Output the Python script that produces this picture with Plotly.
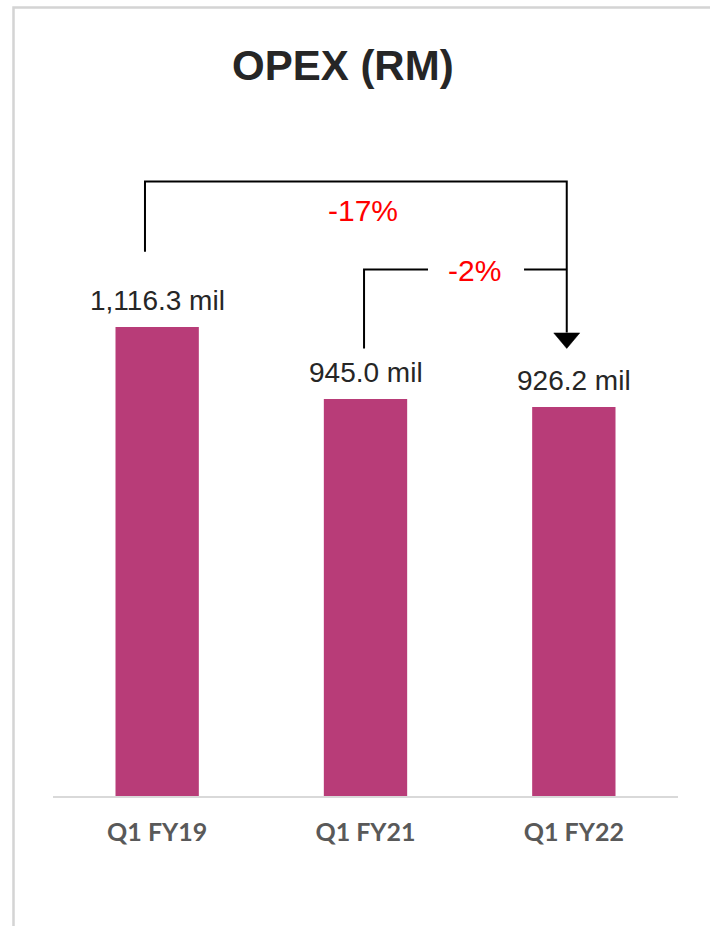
import plotly.graph_objects as go

categories = ["Q1 FY19", "Q1 FY21", "Q1 FY22"]
opex_values = [1116.3, 945.0, 926.2]
value_labels = ["1,116.3 mil", "945.0 mil", "926.2 mil"]
change_labels = ["-17%", "-2%"]

BAR_COLOR = "#B83C78"
TEXT_FONT = "Liberation Sans, Arial, sans-serif"

fig = go.Figure()
fig.add_trace(go.Bar(
    x=categories, y=opex_values, width=0.4,
    marker=dict(color=BAR_COLOR, line=dict(width=0)),
    hoverinfo="skip", showlegend=False,
))

# value labels above bars
for i, (v, lab) in enumerate(zip(opex_values, value_labels)):
    fig.add_annotation(x=i, y=v, xref="x", yref="y", text=lab, showarrow=False,
                       yanchor="bottom", yshift=9,
                       font=dict(family=TEXT_FONT, size=28, color="#262626"))

# bracket geometry (category index / data units)
outer_top = 1463
outer_left_x, right_x = -0.0585, 1.966
outer_left_bottom = 1296
inner_top = 1253.6
inner_left_x = 0.993
inner_left_bottom = 1065.5
gap_l, gap_r = 1.300, 1.761
arrow_tip = 1065.5
arrow_head_top = 1103.6

line = dict(color="black", width=2)
fig.add_shape(type="path", xref="x", yref="y", line=line,
              path=f"M {outer_left_x},{outer_left_bottom} L {outer_left_x},{outer_top} "
                   f"L {right_x},{outer_top} L {right_x},{arrow_head_top}")
fig.add_shape(type="path", xref="x", yref="y", line=line,
              path=f"M {inner_left_x},{inner_left_bottom} L {inner_left_x},{inner_top} L {gap_l},{inner_top}")
fig.add_shape(type="line", xref="x", yref="y", line=line,
              x0=gap_r, x1=right_x, y0=inner_top, y1=inner_top)
# arrow head
fig.add_shape(type="path", xref="x", yref="y", xsizemode="pixel", ysizemode="pixel",
              xanchor=right_x, yanchor=arrow_tip,
              path="M -13,15.5 L 13,15.5 L 0,0 Z",
              fillcolor="black", line=dict(color="black", width=0.5))

fig.add_annotation(x=0.989, y=1394, xref="x", yref="y", text=change_labels[0], showarrow=False,
                   yanchor="middle", font=dict(family=TEXT_FONT, size=30, color="#FF0000"))
fig.add_annotation(x=1.525, y=1251, xref="x", yref="y", text=change_labels[1], showarrow=False,
                   yanchor="middle", font=dict(family=TEXT_FONT, size=30, color="#FF0000"))

# title
fig.add_annotation(x=0.464, y=1.0496, xref="paper", yref="paper", text="<b>OPEX (RM)</b>",
                   showarrow=False, yanchor="middle",
                   font=dict(family=TEXT_FONT, size=42, color="#262626"))

# outer frame
fig.add_shape(type="rect", xref="paper", yref="paper", x0=-0.0632, x1=1.08, y0=-0.22, y1=1.133,
              line=dict(color="#D4D4D4", width=2.5), layer="below")

fig.update_layout(
    width=710, height=926,
    margin=dict(l=53, r=32, t=100, b=130),
    paper_bgcolor="white", plot_bgcolor="white",
    bargap=0.6,
    xaxis=dict(type="category", showgrid=False, showline=True, linecolor="#D9D9D9", linewidth=2,
               ticks="", ticklabelstandoff=13,
               tickfont=dict(family="Lato, sans-serif", size=25, color="#595959"),
               tickprefix="<b>", ticksuffix="</b>", range=[-0.5, 2.5], fixedrange=True),
    yaxis=dict(range=[0, 1657], visible=False, showgrid=False, zeroline=False, fixedrange=True),
)

fig.write_html("out.html")
